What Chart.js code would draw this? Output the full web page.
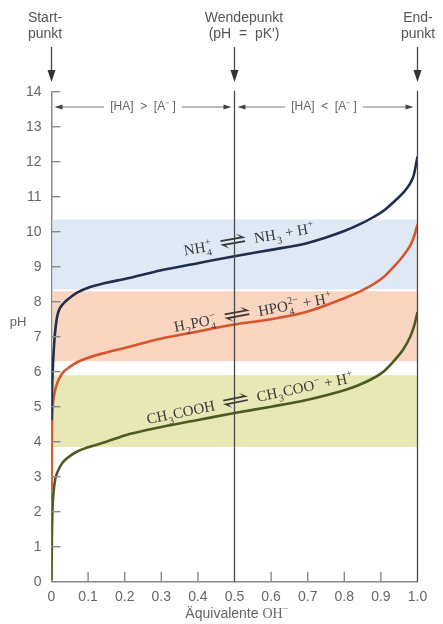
<!DOCTYPE html>
<html><head><meta charset="utf-8">
<script src="https://cdn.jsdelivr.net/npm/chart.js@4.4.0/dist/chart.umd.min.js"></script>
<style>html,body{margin:0;padding:0;background:#fff;}#wrap{width:443px;height:624px;}</style>
</head><body><div id="wrap"><canvas id="c" width="443" height="624"></canvas></div>
<script>
// ---- data ----
const equivalents = [0, 0.001, 0.003, 0.006, 0.01, 0.015, 0.02, 0.03, 0.045, 0.07, 0.1, 0.15, 0.2, 0.3, 0.4, 0.5, 0.6, 0.7, 0.8, 0.84, 0.88, 0.91, 0.94, 0.96, 0.98, 0.99, 1.0];
const phAmmonium  = [4.62, 5.3, 5.95, 6.6, 7.15, 7.55, 7.75, 7.92, 8.07, 8.26, 8.4, 8.54, 8.65, 8.9, 9.1, 9.3, 9.48, 9.68, 10.02, 10.2, 10.42, 10.62, 10.9, 11.1, 11.38, 11.62, 12.15];
const phPhosphate = [2.62, 4.2, 4.95, 5.25, 5.48, 5.65, 5.78, 5.96, 6.1, 6.27, 6.4, 6.55, 6.68, 6.95, 7.15, 7.35, 7.5, 7.72, 8.1, 8.28, 8.5, 8.73, 9.05, 9.3, 9.6, 9.85, 10.2];
const phAcetate   = [0.05, 1.2, 2.15, 2.6, 2.92, 3.1, 3.22, 3.4, 3.55, 3.72, 3.84, 4.0, 4.18, 4.42, 4.62, 4.82, 5.0, 5.2, 5.47, 5.62, 5.82, 6.03, 6.36, 6.62, 7.0, 7.28, 7.7];
const bufferLow  = [8.35, 6.3, 3.85];
const bufferHigh = [10.35, 8.3, 5.9];
const xTickLabels = ['0','0.1','0.2','0.3','0.4','0.5','0.6','0.7','0.8','0.9','1.0'];
const yTickLabels = ['0','1','2','3','4','5','6','7','8','9','10','11','12','13','14'];
const markerPositions = [0, 0.5, 1.0];
const markerTexts = [['Start-','punkt'], ['Wendepunkt','(pH  =  pK\u2032)'], ['End-','punkt']];
const rangeTexts = ['[HA]  >  [A\u207B ]', '[HA]  <  [A\u207B ]'];

// ---- styles ----
const lineColors = ['#1f2e4c', '#d6552d', '#4c5c20'];
const bandColors = ['#dfe9f5', '#fad5bf', '#e8e7b6'];
const SANS = '"Liberation Sans", Arial, sans-serif';
const SERIF = '"Liberation Serif", "DejaVu Serif", serif';

function toPoints(ys){ return equivalents.map((x,i)=>({x:x, y:ys[i]})); }

function drawRich(ctx, parts, cx, cy, angle, size){
  ctx.save();
  ctx.translate(cx, cy); ctx.rotate(angle*Math.PI/180);
  const big = size+'px '+SERIF;
  const small = Math.round(size*0.66)+'px '+SERIF;
  const widths = parts.map(p=>{
    if (p.arrow) return p.arrow;
    if (p.t !== undefined){ ctx.font = big; return ctx.measureText(p.t).width; }
    ctx.font = small;
    return Math.max(p.sub?ctx.measureText(p.sub).width:0, p.sup?ctx.measureText(p.sup).width:0) + 1;
  });
  const total = widths.reduce((a,b)=>a+b,0);
  let x = -total/2;
  ctx.textAlign='left'; ctx.textBaseline='alphabetic';
  parts.forEach((p,i)=>{
    if (p.arrow){
      ctx.font = big;
      const w = ctx.measureText('\u21CC').width;
      ctx.save(); ctx.translate(x, -size*0.3); ctx.scale(p.arrow/w, 1.45);
      ctx.textBaseline = 'middle';
      ctx.fillText('\u21CC', 0, 0); ctx.restore();
    } else if (p.t !== undefined){
      ctx.font = big; ctx.fillText(p.t, x, 0);
    } else {
      ctx.font = small;
      if (p.sub) ctx.fillText(p.sub, x+0.5, size*0.3);
      if (p.sup) ctx.fillText(p.sup, x+0.5, -size*0.42);
    }
    x += widths[i];
  });
  ctx.restore();
}

function arrowHead(ctx, x, y, dir, len, half){
  ctx.beginPath();
  ctx.moveTo(x, y);
  ctx.lineTo(x - dir*len, y - half);
  ctx.lineTo(x - dir*len, y + half);
  ctx.closePath(); ctx.fill();
}

const decor = {
  id: 'decor',
  beforeDatasetsDraw(chart){
    const ctx = chart.ctx, xs = chart.scales.x, ys = chart.scales.y;
    ctx.save();
    bufferLow.forEach((lo,i)=>{
      const y1 = ys.getPixelForValue(bufferHigh[i]), y2 = ys.getPixelForValue(lo);
      ctx.fillStyle = bandColors[i];
      ctx.fillRect(xs.left+1, y1, xs.right - xs.left - 1, y2 - y1);
    });
    ctx.restore();
  },
  afterDatasetsDraw(chart){
    const ctx = chart.ctx, xs = chart.scales.x, ys = chart.scales.y;
    const top = ys.getPixelForValue(14), bottom = ys.getPixelForValue(0);
    ctx.save();
    ctx.strokeStyle = '#4a4a4a'; ctx.lineWidth = 1.3;
    [0.5, 1.0].forEach(v=>{
      const px = xs.getPixelForValue(v);
      ctx.beginPath(); ctx.moveTo(px, top-1); ctx.lineTo(px, bottom); ctx.stroke();
    });
    ctx.strokeStyle = '#8a8a8a'; ctx.lineWidth = 1.4;
    for (let v=1; v<=14; v++){
      const py = ys.getPixelForValue(v);
      ctx.beginPath(); ctx.moveTo(xs.left, py); ctx.lineTo(xs.left+9, py); ctx.stroke();
    }
    for (let i=1; i<10; i++){
      if (i===5) continue;
      const px = xs.getPixelForValue(i/10);
      ctx.beginPath(); ctx.moveTo(px, bottom); ctx.lineTo(px, bottom-10); ctx.stroke();
    }
    const textCenters = [45, 244, 418];
    ctx.fillStyle = '#555'; ctx.strokeStyle = '#444'; ctx.lineWidth = 1.3;
    ctx.font = '14px '+SANS; ctx.textAlign='center'; ctx.textBaseline='middle';
    markerPositions.forEach((v,i)=>{
      const px = xs.getPixelForValue(v);
      ctx.fillText(markerTexts[i][0], textCenters[i], 18);
      ctx.fillText(markerTexts[i][1], textCenters[i], 34);
      ctx.beginPath(); ctx.moveTo(px, 47); ctx.lineTo(px, 74); ctx.stroke();
      ctx.fillStyle = '#333';
      ctx.beginPath(); ctx.moveTo(px-4, 70); ctx.lineTo(px+4, 70); ctx.lineTo(px, 82); ctx.closePath(); ctx.fill();
      ctx.fillStyle = '#555';
    });
    const ry = 107;
    ctx.font = '12px '+SANS; ctx.strokeStyle = '#777'; ctx.lineWidth = 1;
    const segs = [[xs.left+3, xs.getPixelForValue(0.5)-3, 143], [xs.getPixelForValue(0.5)+3, xs.getPixelForValue(1.0)-4, 324]];
    segs.forEach((s,i)=>{
      const w = ctx.measureText(rangeTexts[i]).width;
      ctx.fillStyle = '#666';
      ctx.fillText(rangeTexts[i], s[2], ry);
      ctx.beginPath();
      ctx.moveTo(s[0]+6, ry); ctx.lineTo(s[2]-w/2-6, ry);
      ctx.moveTo(s[2]+w/2+6, ry); ctx.lineTo(s[1]-6, ry);
      ctx.stroke();
      ctx.fillStyle = '#444';
      arrowHead(ctx, s[0], ry, -1, 8, 2.5);
      arrowHead(ctx, s[1], ry, 1, 8, 2.5);
    });
    ctx.fillStyle = '#666'; ctx.font = '13px '+SANS; ctx.textAlign='center'; ctx.textBaseline='middle';
    ctx.fillText('pH', 18, 322);
    ctx.textBaseline='alphabetic'; ctx.textAlign='left';
    ctx.font = '14px '+SANS;
    const t1 = '\u00C4quivalente ';
    const w1 = ctx.measureText(t1).width;
    ctx.font = '14px '+SERIF;
    const w2 = ctx.measureText('OH').width;
    const startX = 236 - (w1+w2+4)/2;
    ctx.font = '14px '+SANS; ctx.fillText(t1, startX, 618);
    ctx.font = '14px '+SERIF; ctx.fillText('OH', startX+w1, 618);
    ctx.font = '9px '+SERIF; ctx.fillText('\u2212', startX+w1+w2, 611);
    ctx.fillStyle = '#3a3a3a';
    drawRich(ctx, [{t:'NH'},{sub:'4',sup:'+'},{t:'  '},{arrow:28},{t:'  NH'},{sub:'3'},{t:' + H'},{sup:'+'}], 250, 244, -10, 15);
    drawRich(ctx, [{t:'H'},{sub:'2'},{t:'PO'},{sub:'4',sup:'\u2212'},{t:'  '},{arrow:28},{t:'  HPO'},{sub:'4',sup:'2\u2212'},{t:' + H'},{sup:'+'}], 254, 317, -10.5, 15);
    drawRich(ctx, [{t:'CH'},{sub:'3'},{t:'COOH  '},{arrow:28},{t:'  CH'},{sub:'3'},{t:'COO'},{sup:'\u2212'},{t:' + H'},{sup:'+'}], 251, 403, -11.5, 15);
    ctx.restore();
  }
};

new Chart(document.getElementById('c'), {
  type: 'line',
  data: {
    datasets: [
      {data: toPoints(phAmmonium), borderColor: lineColors[0]},
      {data: toPoints(phPhosphate), borderColor: lineColors[1]},
      {data: toPoints(phAcetate), borderColor: lineColors[2]}
    ].map(d=>Object.assign(d, {borderWidth: 2.6, pointRadius: 0, fill: false, cubicInterpolationMode: 'monotone'}))
  },
  options: {
    responsive: false, animation: false,
    layout: {padding: {top: 91.7, right: 25.5, left: 0, bottom: 0}},
    plugins: {legend: {display: false}, tooltip: {enabled: false}},
    scales: {
      x: {
        type: 'linear', min: 0, max: 1,
        ticks: {stepSize: 0.1, autoSkip: false, maxRotation: 0, padding: 7, color: '#666',
                font: {size: 14, family: SANS}, callback: (v,i)=>xTickLabels[i]},
        grid: {display: false, drawTicks: false},
        border: {display: true, color: '#888', width: 1.5},
        afterFit: s => { s.height = 42.3; }
      },
      y: {
        min: 0, max: 14,
        ticks: {stepSize: 1, padding: 10, color: '#666', font: {size: 14, family: SANS},
                callback: (v,i)=>yTickLabels[i]},
        grid: {display: false, drawTicks: false},
        border: {display: true, color: '#888', width: 1.5},
        afterFit: s => { s.width = 51.5; }
      }
    }
  },
  plugins: [decor]
});
</script></body></html>
